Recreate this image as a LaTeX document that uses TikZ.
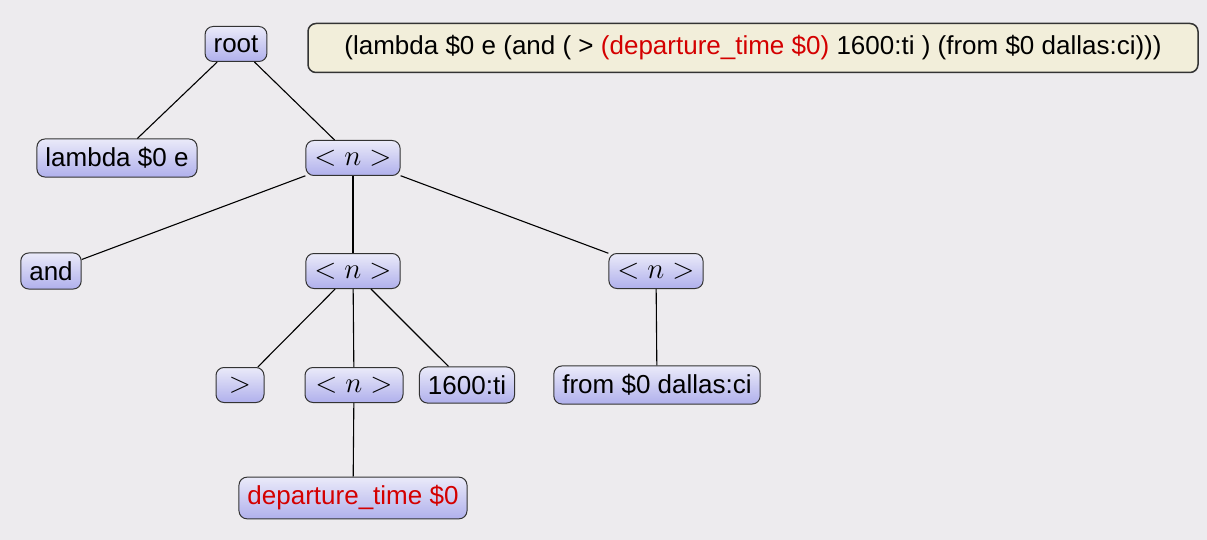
\documentclass[tikz,border=0pt]{standalone}
\usepackage{fix-cm}
\usepackage{fontspec}
\setmainfont{Liberation Sans}
\usepackage{tikz}
\usetikzlibrary{calc}
\definecolor{bgColor}{RGB}{237, 235, 238}
\definecolor{topColor}{RGB}{234, 234, 249}
\definecolor{botColor}{RGB}{176, 176, 236}
\definecolor{formulaColor}{RGB}{242, 238, 218}
\definecolor{redColor}{RGB}{212, 0, 0}
\newcommand{\redtext}[1]{\textcolor{redColor}{#1}}
\newcommand{\bigmath}[1]{{\fontsize{29}{33}\selectfont$#1$}}
\newcommand{\nt}{\bigmath{<n>}}

\begin{document}
\begin{tikzpicture}[
    x = 1pt, y = -1pt,
    every node/.style = {font=\fontsize{26}{30}\selectfont},
    tnode/.style = {draw=black!80, line width=1pt, rounded corners=8pt,
        top color=topColor, bottom color=botColor,
        inner xsep=8.5pt, inner ysep=8.5pt, minimum height=35pt},
    nnode/.style = {tnode, minimum width=91pt},
    formula/.style = {draw=black!80, line width=1.5pt, rounded corners=8pt,
        fill=formulaColor, minimum width=890pt, minimum height=49pt},
    edge/.style = {line width=1.1pt}
  ]
  \fill[bgColor] (0,0) rectangle (1207,540);

  % tree
  \node[tnode] (root)   at (236,44)  {root};
  \node[tnode] (lambda) at (117,158) {lambda \$0 e};
  \node[nnode] (n1)     at (353,158) {\nt};
  \node[tnode] (and)    at (51,271)  {and};
  \node[nnode] (n2)     at (353,271) {\nt};
  \node[nnode] (n3)     at (656,271) {\nt};
  \node[tnode, minimum width=48pt] (gt) at (240,385) {\bigmath{>}};
  \node[nnode, minimum width=98pt] (n4) at (354,385) {\nt};
  \node[tnode] (time)   at (467,385) {1600:ti};
  \node[tnode] (from)   at (657,385) {from \$0 dallas:ci};
  \node[tnode] (dep)    at (353,498) {\redtext{departure\_time \$0}};

  \foreach \a/\b in {root/lambda, root/n1, n1/and, n1/n2, n1/n3,
                     n2/gt, n2/n4, n2/time, n3/from, n4/dep}
    \draw[edge] (\a) -- (\b);

  % logical form
  \node[formula] (lf) at (753,48)
    {(lambda \$0 e (and ( > \redtext{(departure\_time \$0)} 1600:ti ) (from \$0 dallas:ci)))};
\end{tikzpicture}
\end{document}
